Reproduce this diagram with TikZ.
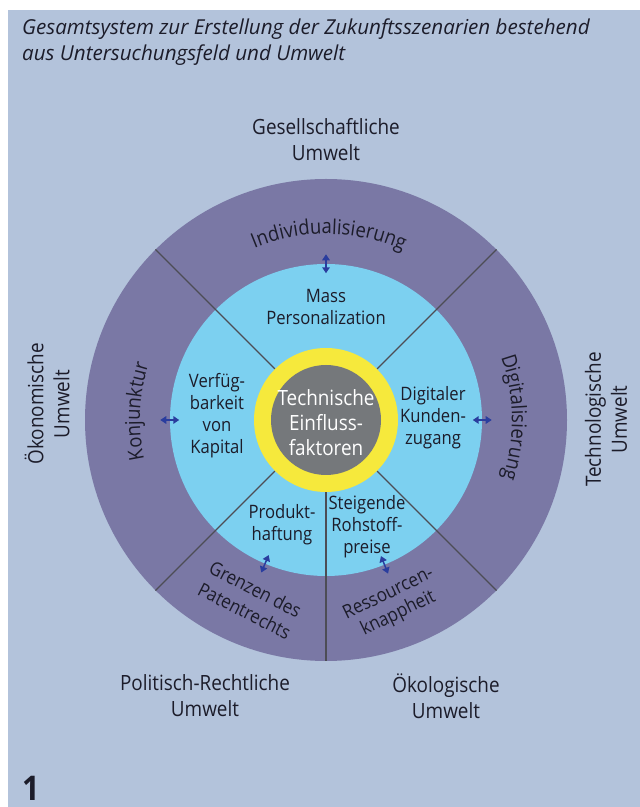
\documentclass[tikz,border=0pt]{standalone}
\usepackage{fontspec}
\setmainfont{Open Sans}[FakeStretch=0.9]
\newfontfamily\titlefont{Open Sans}
\usetikzlibrary{decorations.text,arrows.meta,calc}
\definecolor{bgc}{HTML}{B3C3DB}
\definecolor{purp}{HTML}{7A78A5}
\definecolor{lblue}{HTML}{7CD0F0}
\definecolor{yel}{HTML}{F6E93C}
\definecolor{greyc}{HTML}{75787B}
\definecolor{txt}{HTML}{1C1C2A}
\definecolor{linec}{HTML}{4D4D55}
\definecolor{arrc}{HTML}{2A3D9E}
\newcommand{\ringfont}{\fontsize{20.5}{24}\selectfont}
\tikzset{
  envlabel/.style={font=\fontsize{21}{26}\selectfont, align=center, text=txt, inner sep=0},
  innerlabel/.style={font=\fontsize{18.5}{22}\selectfont, align=center, text=txt, inner sep=0},
  ringlabel/.style={font=\fontsize{19}{24}\selectfont, align=center, text=txt, inner sep=0},
  titleline/.style={anchor=base west, inner sep=0, text=txt, font=\titlefont\fontsize{20.6}{24}\selectfont\itshape},
  disc/.style={circle, inner sep=0, draw=none},
  divider/.style={draw=linec, line width=1.1pt},
  dblarrow/.style={draw=arrc, line width=1.5pt, {Triangle[length=6pt,width=7.5pt]}-{Triangle[length=6pt,width=7.5pt]}},
  arctext/.style={decorate, decoration={text along path, text align=center, text color=txt, text={|\ringfont|#1}}}
}
\begin{document}
\begin{tikzpicture}[x=1pt,y=1pt]
\useasboundingbox (0,0) rectangle (640,807);
\fill[white] (0,0) rectangle (640,807);
\fill[bgc] (7.5,0) rectangle (640,797);

% title
\node[titleline] (title1) at (22,772.5) {Gesamtsystem zur Erstellung der Zukunftsszenarien bestehend};
\node[titleline] (title2) at (22,746) {aus Untersuchungsfeld und Umwelt};

% discs
\coordinate (c) at (326,387);
\node[disc, fill=purp, minimum size=482pt] (outer) at (c) {};
\node[disc, fill=lblue, minimum size=312pt] (inner) at (c) {};

% dividers
\foreach \a in {45,135,225,270,315}{
  \draw[divider] ($(c)+(\a:72pt)$) -- (outer.\a);
}
\node[disc, fill=yel, minimum size=144pt] (yring) at (c) {};
\node[disc, fill=greyc, minimum size=110pt] (core) at (c) {};
\node[align=center, inner sep=0, text=white, font=\fontsize{21}{25}\selectfont] (coretext) at (326,384) {Technische\\Einfluss-\\faktoren};

% arrows
\foreach \a in {90,180,0,247.5,292.5}{
  \draw[dblarrow] ($(inner.\a)!-9.5pt!(c)$) -- ($(inner.\a)!9.5pt!(c)$);
}

% ring texts along arcs
\path[arctext={Individualisierung}] ($(c)+(149.1:186pt)$) arc[start angle=149.1, end angle=29.1, radius=186pt];
\path[arctext={Konjunktur}] ($(c)+(227.3:186pt)$) arc[start angle=227.3, end angle=127.3, radius=186pt];
\path[arctext={Digitalisierung}] ($(c)+(50.8:186pt)$) arc[start angle=50.8, end angle=-49.2, radius=186pt];
\node[ringlabel, rotate=-27] (grenzen1) at (255.5,217.7) {Grenzen des};
\node[ringlabel, rotate=-27] (grenzen2) at (244.5,196.3) {Patentrechts};
\node[ringlabel, rotate=26] (ressourcen1) at (387.7,214.8) {Ressourcen-};
\node[ringlabel, rotate=26] (ressourcen2) at (398.3,193.2) {knappheit};

% inner labels
\node[innerlabel] (mass) at (326,500) {Mass\\Personalization};
\node[innerlabel] (kapital) at (217,391) {Verfüg-\\barkeit\\von\\Kapital};
\node[innerlabel] (kunden) at (433,389) {Digitaler\\Kunden-\\zugang};
\node[innerlabel] (haftung) at (282,282) {Produkt-\\haftung};
\node[innerlabel] (rohstoff) at (367,280) {Steigende\\Rohstoff-\\preise};

% environment labels
\node[envlabel] (gesell) at (326,667) {Gesellschaftliche\\Umwelt};
\node[envlabel, rotate=90] (oeko) at (47,403) {Ökonomische\\Umwelt};
\node[envlabel, rotate=90] (techno) at (606,387.5) {Technologische\\Umwelt};
\node[envlabel] (polit) at (205,111) {Politisch-Rechtliche\\Umwelt};
\node[envlabel] (oekol) at (446,111) {Ökologische\\Umwelt};

\node[anchor=base west, inner sep=0, text=txt, font=\fontsize{34}{34}\selectfont\bfseries] (num) at (22,6) {1};
\end{tikzpicture}
\end{document}
